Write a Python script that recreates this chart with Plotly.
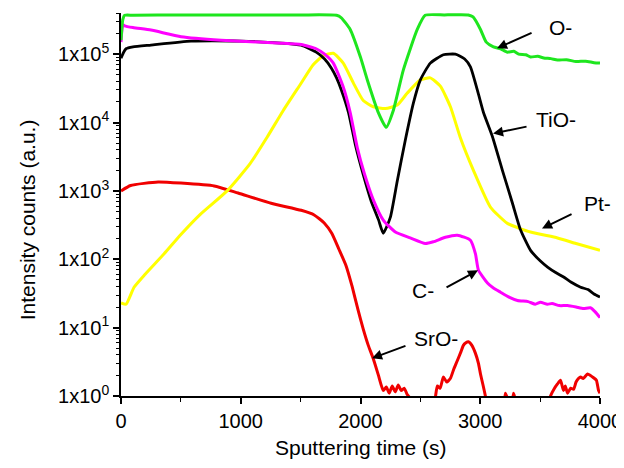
import numpy as np
import plotly.graph_objects as go

# ---------------- data ----------------
o_x = [0, 15, 30, 100, 500, 1000, 1500, 1800, 1840, 1914, 2000, 2057, 2149, 2215, 2274, 2358, 2474, 2540,
       2700, 2900, 2940, 3002, 3050, 3110, 3170, 3227, 3280, 3320, 3380, 3420, 3480, 3530, 3590, 3645, 3720,
       3800, 3880, 3950, 4000]
o_y = [1.6e5, 3.2e5, 3.7e5, 3.7e5, 3.75e5, 3.75e5, 3.75e5, 3.7e5, 3.4e5, 2.3e5, 9e4, 4.2e4, 1.4e4, 8.5e3,
       1.5e4, 5.9e4, 2.3e5, 3.7e5, 3.75e5, 3.75e5, 3.5e5, 2.3e5, 1.5e5, 1.28e5, 1.2e5, 1.07e5, 1.1e5, 1.0e5,
       9.8e4, 9.1e4, 9.3e4, 8.8e4, 8.6e4, 8.2e4, 8.3e4, 7.8e4, 7.9e4, 7.5e4, 7.4e4]

tio_x = [0, 20, 42, 100, 250, 585, 1003, 1338, 1505, 1630, 1700, 1756, 1800, 1840, 1900, 1960, 2020, 2090,
         2150, 2190, 2249, 2307, 2374, 2441, 2500, 2583, 2692, 2792, 2870, 2918, 2985, 3027, 3102, 3185, 3269,
         3336, 3420, 3500, 3562, 3630, 3696, 3760, 3838, 3900, 3950, 4000]
tio_y = [8.7e4, 1.05e5, 1.2e5, 1.28e5, 1.36e5, 1.55e5, 1.55e5, 1.45e5, 1.35e5, 1.07e5, 8.5e4, 6.3e4, 4.5e4,
         3e4, 1.4e4, 4.5e3, 1.8e3, 700, 380, 240, 410, 1.4e3, 5.5e3, 1.9e4, 4.2e4, 7.4e4, 9.8e4, 1e5, 8.5e4,
         6.5e4, 2.6e4, 1.4e4, 6.2e3, 2e3, 660, 270, 135, 95, 77, 64, 55, 46, 39, 36, 31, 28]

pt_x = [0, 42, 109, 200, 360, 500, 660, 886, 1078, 1220, 1355, 1497, 1605, 1689, 1773, 1856, 1940, 2023,
        2107, 2207, 2307, 2391, 2500, 2583, 2667, 2751, 2834, 2943, 3085, 3227, 3420, 3645, 3800, 4000]
pt_y = [23, 22, 39, 60, 120, 230, 450, 1e3, 2.5e3, 6.1e3, 1.5e4, 3.6e4, 7e4, 9.5e4, 1.03e5, 7.4e4, 3.8e4,
        2.1e4, 1.7e4, 1.6e4, 1.8e4, 2.7e4, 4.2e4, 4.5e4, 3.4e4, 1.7e4, 6e3, 2e3, 580, 335, 250, 205, 170, 135]

c_x = [0, 15, 30, 100, 250, 502, 836, 1338, 1505, 1630, 1700, 1773, 1856, 1914, 1973, 2032, 2107, 2190, 2291,
       2416, 2541, 2608, 2709, 2809, 2918, 2960, 2985, 3060, 3110, 3169, 3240, 3311, 3400, 3460, 3503, 3560,
       3600, 3660, 3729, 3800, 3862, 3920, 3960, 4000]
c_y = [1.5e5, 2.7e5, 2.6e5, 2.45e5, 2.25e5, 1.8e5, 1.6e5, 1.45e5, 1.38e5, 1.2e5, 1.0e5, 7.4e4, 3.3e4, 1.4e4,
       4.3e3, 1.8e3, 740, 375, 250, 205, 170, 180, 210, 225, 190, 120, 69, 45, 38, 33, 28, 25, 24, 22, 23.5,
       22, 22.5, 21, 21, 20, 19, 19.5, 17, 14]

sro_x = [0, 80, 310, 500, 778, 978, 1254, 1505, 1613, 1697, 1760, 1820, 1880, 1930, 1980, 2023, 2065, 2107,
         2150, 2190, 2215, 2240, 2265, 2290, 2315, 2340, 2365, 2390, 2410, 2440, 2600, 2625, 2642, 2665, 2692,
         2720, 2750, 2780, 2809, 2840, 2859, 2880, 2901, 2930, 2960, 2985, 3002, 3025, 3043, 3070, 3190, 3210,
         3230, 3260, 3277, 3295, 3560, 3587, 3620, 3645, 3670, 3695, 3710, 3729, 3755, 3779, 3800, 3820, 3838,
         3860, 3896, 3920, 3946, 3970, 3988, 4000]
sro_y = [1.0e3, 1.2e3, 1.35e3, 1.3e3, 1.18e3, 930, 660, 520, 445, 340, 240, 140, 80, 40, 18, 9.5, 5.5, 3.5,
         2.0, 1.2, 1.35, 1.1, 1.4, 1.15, 1.45, 1.2, 1.3, 1.05, 0.95, 0.6, 0.6, 0.95, 1.4, 1.3, 1.9, 1.6, 1.8,
         2.5, 3.3, 4.5, 5.5, 6.0, 6.2, 5.5, 4.2, 3.0, 2.1, 1.4, 1.0, 0.6, 0.6, 1.1, 0.9, 0.6, 1.1, 0.9, 0.6,
         1.0, 1.3, 1.5, 1.7, 1.2, 1.4, 1.1, 1.3, 1.25, 1.6, 1.8, 1.9, 1.8, 2.1, 2.0, 1.85, 1.7, 1.2, 1.1]

series_names = ["O-", "TiO-", "Pt-", "C-", "SrO-"]
series_colors = ["#1EE61E", "#000000", "#FFFF00", "#FF00FF", "#F00000"]

x_tickvals = [0, 1000, 2000, 3000, 4000]
y_tickvals = [1, 10, 100, 1000, 10000, 100000]
y_ticktext = ["1x10<sup>%d</sup>" % i for i in range(6)]

# labels: (text, text paper-x, text paper-y, arrow_tail_x, arrow_tail_y, arrow_head_x, arrow_head_y)
labels = [
    ("O-",   0.917, 0.963, 3441, 2.09e5, 3140, 1.22e5),
    ("TiO-", 0.908, 0.722, 3399, 8.8e3,  3107, 6.9e3),
    ("Pt-",  0.994, 0.503, 3775, 470,    3516, 282),
    ("C-",   0.630, 0.276, 2706, 37.6,   2981, 69),
    ("SrO-", 0.658, 0.150, 2388, 5.5,    2096, 3.57),
]

# ---------------- figure ----------------
fig = go.Figure()
order = [(sro_x, sro_y, 4), (pt_x, pt_y, 2), (tio_x, tio_y, 1), (c_x, c_y, 3), (o_x, o_y, 0)]
for xs, ys, i in order:
    fig.add_trace(go.Scatter(x=xs, y=ys, mode="lines", name=series_names[i],
                             line=dict(color=series_colors[i], width=3 if i != 1 else 2.8, shape="spline",
                                       smoothing=0.5),
                             showlegend=False))

font = "Liberation Sans, Arial, sans-serif"
annotations = []
for txt, tx, ty, ax_, ay_, hx, hy in labels:
    annotations.append(dict(x=tx, y=ty, xref="paper", yref="paper", text=txt, showarrow=False,
                            font=dict(family=font, size=21, color="#000000"),
                            xanchor="center", yanchor="middle"))
    annotations.append(dict(x=hx, y=np.log10(hy), xref="x", yref="y", ax=ax_, ay=np.log10(ay_),
                            axref="x", ayref="y", text="", showarrow=True, arrowhead=2,
                            arrowsize=1.0, arrowwidth=2, arrowcolor="#000000", standoff=0, startstandoff=0))

annotations.append(dict(x=-0.196, y=0.459, xref="paper", yref="paper", text="Intensity counts (a.u.)",
                        textangle=-90, showarrow=False, font=dict(family=font, size=21, color="#000000"),
                        xanchor="center", yanchor="middle"))
annotations.append(dict(x=0.5, y=-0.134, xref="paper", yref="paper", text="Sputtering time (s)",
                        showarrow=False, font=dict(family=font, size=21, color="#000000"),
                        xanchor="center", yanchor="middle"))

minor_y = [m * 10 ** d for d in range(0, 6) for m in range(2, 10) if m * 10 ** d <= 4e5]

# the page body adds an 8px offset, so the figure is a little smaller than the window
fig.update_layout(
    width=616, height=460,
    margin=dict(l=113, r=24, t=5, b=72, autoexpand=False),
    plot_bgcolor="white", paper_bgcolor="white",
    font=dict(family=font, size=20, color="#000000"),
    annotations=annotations,
    xaxis=dict(range=[0, 4000], tickvals=x_tickvals, ticks="outside", ticklen=6, tickwidth=1.5,
               tickcolor="#000000", showline=True, linecolor="#000000", linewidth=1.5, showgrid=False,
               zeroline=False, mirror=False, tickfont=dict(size=20), automargin=False,
               minor=dict(tickvals=[500, 1500, 2500, 3500], ticks="outside", ticklen=4, tickwidth=1.2,
                          tickcolor="#000000")),
    yaxis=dict(type="log", range=[0, np.log10(4e5)], tickvals=y_tickvals, ticktext=y_ticktext,
               ticks="outside", ticklen=6, tickwidth=1.5, tickcolor="#000000", showline=True,
               linecolor="#000000", linewidth=1.5, showgrid=False, zeroline=False, mirror=False,
               tickfont=dict(size=20), automargin=False,
               minor=dict(tickvals=minor_y, ticks="outside", ticklen=3, tickwidth=1, tickcolor="#000000")),
)

fig.write_html("out.html")
